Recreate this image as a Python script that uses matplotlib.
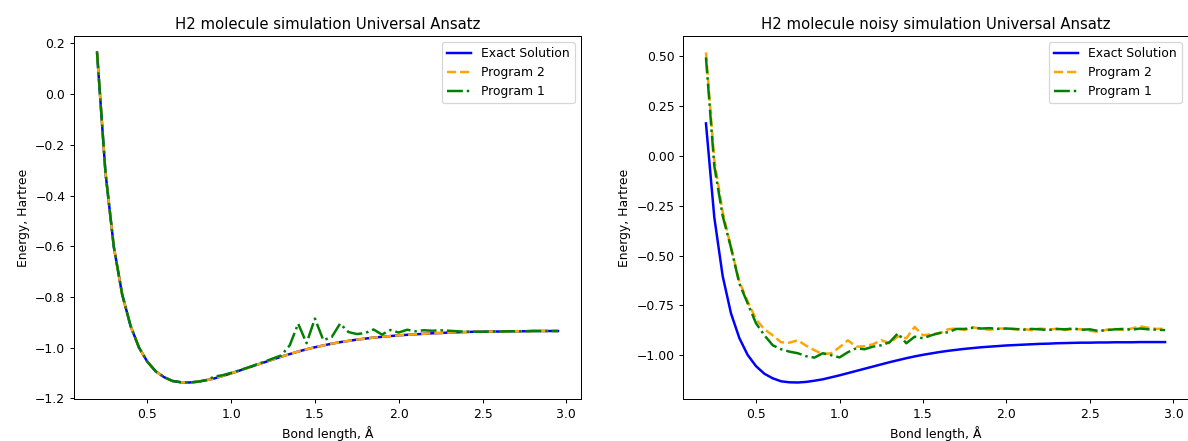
import matplotlib

matplotlib.use("Agg")
import matplotlib.pyplot as plt

# bond lengths, Angstrom
bond_length = [
    0.20, 0.25, 0.30, 0.35, 0.40, 0.45, 0.50, 0.55, 0.60, 0.65,
    0.70, 0.75, 0.80, 0.85, 0.90, 0.95, 1.00, 1.05, 1.10, 1.15,
    1.20, 1.25, 1.30, 1.35, 1.40, 1.45, 1.50, 1.55, 1.60, 1.65,
    1.70, 1.75, 1.80, 1.85, 1.90, 1.95, 2.00, 2.05, 2.10, 2.15,
    2.20, 2.25, 2.30, 2.35, 2.40, 2.45, 2.50, 2.55, 2.60, 2.65,
    2.70, 2.75, 2.80, 2.85, 2.90, 2.95,
]

exact_energy = [
    0.164, -0.308, -0.602, -0.790, -0.914, -0.999, -1.055, -1.093, -1.116, -1.131,
    -1.136, -1.137, -1.134, -1.128, -1.121, -1.111, -1.101, -1.090, -1.079, -1.068,
    -1.057, -1.046, -1.035, -1.025, -1.015, -1.006, -0.998, -0.991, -0.984, -0.978,
    -0.973, -0.968, -0.964, -0.960, -0.957, -0.954, -0.951, -0.949, -0.947, -0.945,
    -0.943, -0.942, -0.940, -0.939, -0.938, -0.937, -0.937, -0.936, -0.936, -0.935,
    -0.935, -0.935, -0.934, -0.934, -0.934, -0.934,
]

# noiseless simulation
prog2_ideal = [
    0.164, -0.308, -0.602, -0.790, -0.914, -0.999, -1.055, -1.093, -1.116, -1.131,
    -1.136, -1.137, -1.134, -1.128, -1.121, -1.111, -1.101, -1.090, -1.079, -1.068,
    -1.057, -1.046, -1.035, -1.025, -1.015, -1.006, -0.998, -0.991, -0.984, -0.978,
    -0.973, -0.968, -0.964, -0.960, -0.957, -0.954, -0.951, -0.949, -0.947, -0.945,
    -0.943, -0.942, -0.940, -0.939, -0.938, -0.937, -0.937, -0.936, -0.936, -0.935,
    -0.935, -0.935, -0.934, -0.934, -0.934, -0.934,
]
prog1_ideal = [
    0.164, -0.308, -0.602, -0.790, -0.914, -0.999, -1.055, -1.093, -1.116, -1.131,
    -1.136, -1.137, -1.134, -1.128, -1.114, -1.108, -1.099, -1.089, -1.078, -1.066,
    -1.055, -1.042, -1.030, -0.990, -0.905, -0.982, -0.885, -0.970, -0.958, -0.905,
    -0.938, -0.946, -0.942, -0.928, -0.948, -0.930, -0.940, -0.929, -0.935, -0.931,
    -0.933, -0.931, -0.933, -0.935, -0.937, -0.937, -0.937, -0.936, -0.936, -0.935,
    -0.935, -0.935, -0.934, -0.934, -0.934, -0.934,
]

# noisy simulation
prog2_noisy = [
    0.520, -0.020, -0.280, -0.460, -0.630, -0.730, -0.820, -0.870, -0.900, -0.935,
    -0.937, -0.925, -0.952, -0.975, -0.995, -0.990, -0.960, -0.925, -0.957, -0.955,
    -0.945, -0.925, -0.940, -0.905, -0.915, -0.858, -0.900, -0.895, -0.890, -0.870,
    -0.865, -0.873, -0.860, -0.868, -0.872, -0.866, -0.866, -0.870, -0.868, -0.874,
    -0.866, -0.870, -0.868, -0.874, -0.868, -0.870, -0.878, -0.882, -0.872, -0.868,
    -0.874, -0.866, -0.855, -0.862, -0.868, -0.866,
]
prog1_noisy = [
    0.495, -0.050, -0.300, -0.460, -0.640, -0.740, -0.840, -0.900, -0.950, -0.970,
    -0.982, -0.990, -1.005, -1.012, -0.990, -1.000, -1.011, -0.985, -0.965, -0.970,
    -0.957, -0.950, -0.935, -0.890, -0.940, -0.907, -0.915, -0.900, -0.888, -0.885,
    -0.868, -0.868, -0.862, -0.866, -0.864, -0.868, -0.866, -0.868, -0.872, -0.868,
    -0.870, -0.874, -0.868, -0.870, -0.866, -0.872, -0.870, -0.878, -0.874, -0.870,
    -0.868, -0.872, -0.866, -0.870, -0.872, -0.874,
]

titles = [
    "H2 molecule simulation Universal Ansatz",
    "H2 molecule noisy simulation Universal Ansatz",
]


def draw_panel(ax, prog2, prog1, title):
    ax.plot(bond_length, exact_energy, "-", color="blue", lw=2, label="Exact Solution")
    ax.plot(bond_length, prog2, "--", color="orange", lw=2, label="Program 2")
    ax.plot(bond_length, prog1, "-.", color="green", lw=2, label="Program 1")
    ax.set_title(title, fontsize=12)
    ax.set_xlabel("Bond length, Å", fontsize=10)
    ax.set_ylabel("Energy, Hartree", fontsize=10)
    ax.tick_params(labelsize=10)
    ax.legend(loc="upper right", fontsize=10)


W, H = 1188, 441
DPI = 89
fig = plt.figure(figsize=(W / DPI, H / DPI), dpi=DPI)
ax1 = fig.add_axes([74 / W, 42 / H, 507 / W, 363 / H])
ax2 = fig.add_axes([683 / W, 42 / H, 505 / W, 363 / H])

draw_panel(ax1, prog2_ideal, prog1_ideal, titles[0])
draw_panel(ax2, prog2_noisy, prog1_noisy, titles[1])

fig.savefig("out.png", dpi=DPI)
plt.close(fig)
